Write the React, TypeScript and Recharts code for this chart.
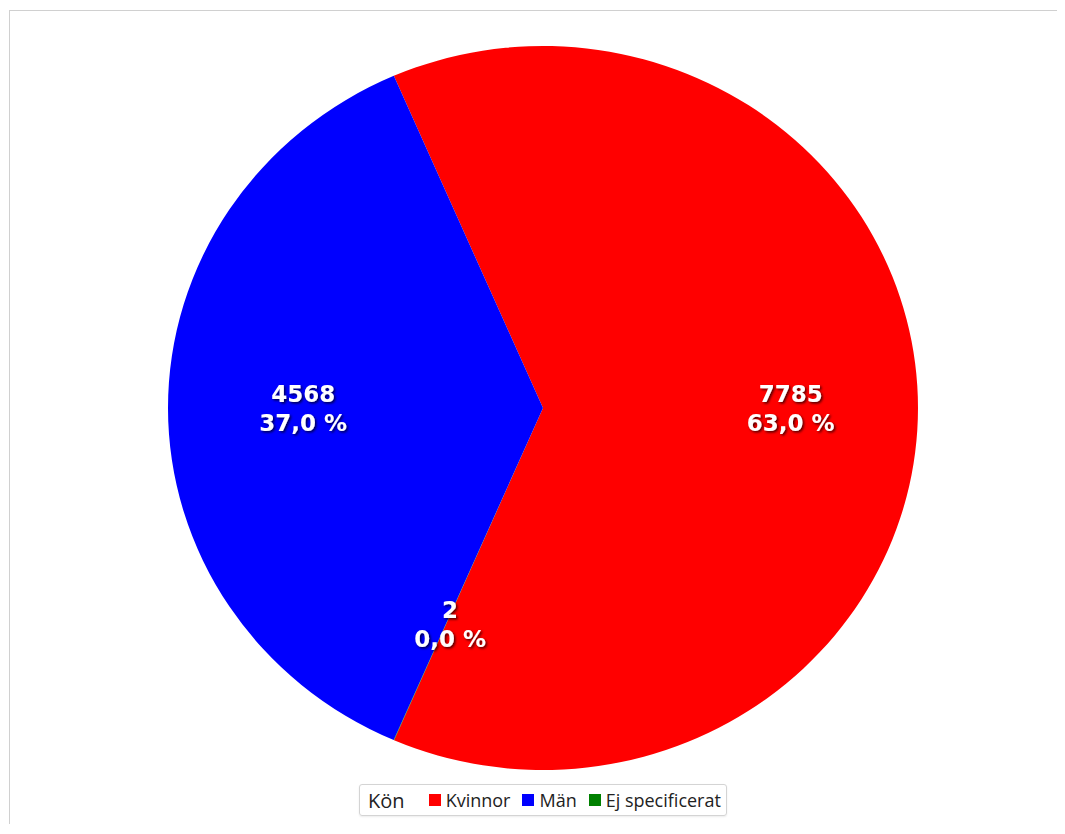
import { Legend, Pie, PieChart } from "recharts";

const categories = ["Kvinnor", "Män", "Ej specificerat"];
const counts = [7785, 4568, 2];
const colors = ["#ff0000", "#0000ff", "#008000"];
const legendTitle = "Kön";

const data = categories.map((name, i) => ({ name, value: counts[i], fill: colors[i] }));

const CX = 533;
const CY = 397;
const RX = 375;
const RY = 362;
const RAD = Math.PI / 180;

// the reference pie is slightly wider than tall, so the sectors are drawn as ellipse slices
function EllipseSector(props: any) {
  const { cx, cy, startAngle, endAngle, fill } = props;
  const x1 = cx + RX * Math.cos(startAngle * RAD);
  const y1 = cy - RY * Math.sin(startAngle * RAD);
  const x2 = cx + RX * Math.cos(endAngle * RAD);
  const y2 = cy - RY * Math.sin(endAngle * RAD);
  const large = Math.abs(endAngle - startAngle) > 180 ? 1 : 0;
  const d = `M${cx},${cy} L${x1},${y1} A${RX},${RY} 0 ${large} 0 ${x2},${y2} Z`;
  return <path d={d} fill={fill} stroke="none" />;
}

function fmtPct(p: number) {
  return (p * 100).toFixed(1).replace(".", ",") + " %";
}

function renderLabel(props: any) {
  const { cx, cy, midAngle, value, percent, index } = props;
  const x = cx + 4 + RX * 0.65 * Math.cos(-midAngle * RAD);
  const y = cy + RY * 0.65 * Math.sin(-midAngle * RAD);
  const id = `lblshadow${index}`;
  const style = { fontFamily: "'DejaVu Sans', Verdana, sans-serif", fontWeight: 700, fontSize: 23 };
  return (
    <g>
      <defs>
        <filter id={id} x="-20%" y="-20%" width="140%" height="160%">
          <feDropShadow dx="1.5" dy="1.5" stdDeviation="1" floodColor="#000" floodOpacity="0.7" />
        </filter>
      </defs>
      <g filter={`url(#${id})`}>
        <text x={x} y={y - 5.5} textAnchor="middle" fill="#fff" style={style}>
          {value}
        </text>
        <text x={x} y={y + 23.5} textAnchor="middle" fill="#fff" style={style}>
          {fmtPct(percent)}
        </text>
      </g>
    </g>
  );
}

function LegendBox() {
  return (
    <div style={{ display: "flex", justifyContent: "center" }}>
      <div
        style={{
          display: "flex",
          alignItems: "center",
          border: "1px solid #d4d4d4",
          borderRadius: 3,
          height: 30,
          padding: "0 5px 0 8px",
          fontFamily: "'Open Sans', sans-serif",
          fontSize: 18,
          color: "#222",
          boxShadow: "0 1px 2px rgba(0,0,0,0.08)",
        }}
      >
        <span style={{ marginRight: 24, fontSize: 20 }}>{legendTitle}</span>
        {data.map((d, i) => (
          <span key={d.name} style={{ display: "flex", alignItems: "center", marginRight: i < data.length - 1 ? 12 : 0 }}>
            <span style={{ width: 12, height: 12, background: d.fill, marginRight: 5, display: "inline-block" }} />
            {d.name}
          </span>
        ))}
      </div>
    </div>
  );
}

export default function App() {
  return (
    <div
      style={{
        marginLeft: 1,
        marginTop: 2,
        width: 1056,
        height: 814,
        borderTop: "1px solid #d0d0d0",
        borderLeft: "1px solid #d0d0d0",
        boxSizing: "border-box",
        background: "#fff",
      }}
    >
      <PieChart width={1055} height={813} margin={{ top: 0, right: 0, bottom: 0, left: 0 }}>
        <Pie
          data={data}
          dataKey="value"
          nameKey="name"
          cx={CX}
          cy={CY}
          outerRadius={RX}
          startAngle={-113.4}
          endAngle={246.6}
          stroke="none"
          labelLine={false}
          label={renderLabel}
          shape={EllipseSector}
          inactiveShape={EllipseSector}
          activeShape={EllipseSector}
          isAnimationActive={false}
        />
        <Legend
          content={() => <LegendBox />}
          wrapperStyle={{ position: "absolute", left: 0, top: 773, width: 2 * CX }}
        />
      </PieChart>
    </div>
  );
}
